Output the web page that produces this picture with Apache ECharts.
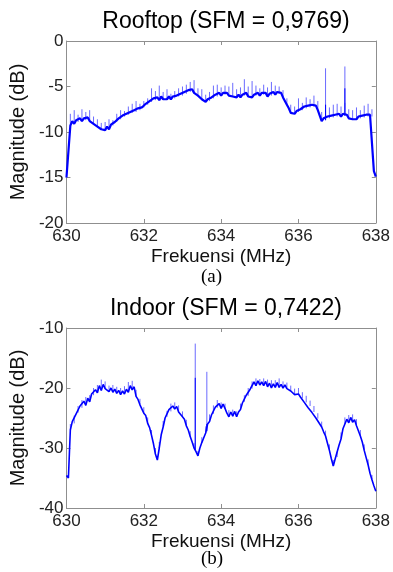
<!DOCTYPE html>
<html>
<head>
<meta charset="utf-8">
<script src="https://cdn.jsdelivr.net/npm/echarts@6/dist/echarts.min.js"></script>
<style>
  html, body { margin: 0; padding: 0; background: #fff; }
  #chart { width: 393px; height: 572px; }
</style>
</head>
<body>
<div id="chart"></div>
<script>
// spectrum readings, one value every 0.05 MHz from 630 to 638
const magRooftop = [
  -15.0, -15.1, -9.3, -8.8, -9.1, -8.7, -8.9, -8.5, -8.8, -8.5, -8.7, -8.4, -8.8, -8.6, -9.1, -8.9, -9.4, -9.2, -9.7, -9.5,
  -9.8, -9.4, -9.7, -9.2, -9.3, -8.9, -8.9, -8.5, -8.6, -8.2, -8.3, -8.0, -8.1, -7.8, -7.9, -7.6, -7.8, -7.4, -7.6, -7.3,
  -7.3, -6.9, -7.0, -6.6, -6.7, -6.3, -6.5, -6.2, -6.5, -6.1, -6.4, -6.2, -6.4, -6.1, -6.4, -6.1, -6.3, -6.0, -6.1, -5.8,
  -6.0, -5.6, -5.8, -5.4, -5.6, -5.3, -5.7, -5.6, -6.0, -6.0, -6.4, -6.4, -6.7, -6.4, -6.6, -6.2, -6.3, -5.9, -6.1, -5.7,
  -6.0, -5.7, -5.9, -5.7, -6.0, -5.8, -6.1, -5.9, -6.2, -5.9, -6.2, -5.9, -6.0, -5.7, -6.1, -5.9, -6.2, -5.9, -6.0, -5.7,
  -6.0, -5.7, -5.9, -5.7, -6.1, -5.8, -6.0, -5.6, -5.9, -5.6, -5.8, -5.7, -6.2, -6.4, -7.0, -7.4, -7.9, -7.7, -8.0, -7.7,
  -7.8, -7.5, -7.6, -7.2, -7.4, -7.1, -7.3, -7.0, -7.2, -7.1, -7.6, -8.2, -8.8, -8.5, -8.7, -8.3, -8.5, -8.2, -8.4, -8.1,
  -8.3, -8.0, -8.3, -8.0, -8.2, -8.1, -8.5, -8.3, -8.6, -8.4, -8.6, -8.3, -8.5, -8.2, -8.4, -8.1, -8.3, -8.1, -8.3, -14.3,
  -14.9
];
// light noise peaks above the band, one every 0.1 MHz
const peakRooftop = [
  -15.0, -8.0, -7.6, -8.1, -7.5, -7.8, -7.6, -8.3, -8.6, -9.0,
  -8.9, -8.6, -8.7, -8.0, -7.6, -7.7, -7.2, -6.9, -6.6, -6.9,
  -6.6, -6.3, -5.2, -5.5, -4.9, -5.6, -5.3, -5.8, -5.5, -5.2,
  -5.0, -4.8, -4.5, -4.3, -5.2, -5.3, -5.9, -5.6, -4.9, -4.8,
  -5.1, -4.9, -5.0, -4.6, -5.3, -5.1, -4.2, -5.0, -4.4, -4.9,
  -5.2, -4.8, -5.1, -4.5, -4.9, -5.0, -5.4, -6.3, -7.0, -7.2,
  -6.3, -6.8, -6.2, -6.4, -6.0, -6.6, -7.8, -7.0, -7.3, -7.0,
  -6.9, -7.2, -6.8, -7.5, -7.6, -7.3, -7.6, -7.1, -6.9, -7.5,
  -14.9
];
const magIndoor = [
  -34.6, -35.0, -27.0, -25.6, -25.9, -24.3, -24.1, -23.0, -23.3, -22.2, -22.9, -21.7, -22.3, -21.0, -21.2, -20.3, -20.8, -19.6, -20.4, -19.4,
  -20.1, -19.8, -20.6, -20.0, -20.7, -20.2, -20.9, -20.4, -21.1, -20.5, -21.0, -20.2, -20.7, -19.6, -20.3, -19.8, -21.4, -21.9, -22.8, -23.1,
  -24.2, -24.6, -25.9, -26.6, -27.9, -29.3, -31.0, -32.0, -30.0, -27.8, -26.5, -25.0, -24.8, -23.6, -23.9, -23.0, -23.5, -23.1, -24.0, -23.9,
  -24.8, -25.2, -26.3, -27.0, -28.1, -29.0, -30.0, -30.6, -31.3, -30.0, -29.1, -28.3, -27.5, -26.0, -25.6, -24.5, -24.3, -23.2, -23.3, -22.6,
  -23.4, -22.7, -23.4, -24.2, -24.8, -24.0, -24.7, -23.9, -24.8, -24.0, -23.6, -22.5, -22.3, -21.2, -21.3, -20.2, -20.1, -19.0, -19.6, -18.8,
  -19.5, -19.0, -19.6, -18.9, -19.8, -19.2, -20.0, -19.3, -19.9, -19.1, -19.9, -19.4, -20.0, -19.5, -20.1, -19.8, -20.5, -20.4, -21.1, -21.0,
  -21.0, -21.5, -21.7, -22.4, -22.4, -23.3, -23.0, -24.1, -24.0, -25.0, -25.1, -26.0, -26.5, -27.3, -28.0, -29.2, -30.4, -31.8, -33.0, -31.8,
  -31.5, -29.5, -28.5, -26.8, -26.0, -25.2, -25.8, -24.9, -25.7, -25.3, -26.3, -26.5, -28.0, -29.0, -30.4, -31.6, -32.8, -34.2, -35.3, -36.3,
  -37.2
];
const peakIndoor = [
  -34.6, -26.0, -24.6, -23.0, -22.0, -21.5, -21.2, -20.0, -19.5, -18.6,
  -18.9, -19.6, -19.5, -19.8, -20.0, -19.7, -19.0, -18.8, -20.3, -21.8,
  -23.2, -24.9, -27.0, -30.0, -29.0, -25.5, -23.8, -22.6, -22.4, -22.9,
  -23.9, -25.3, -27.2, -29.2, -30.5, -28.2, -26.4, -24.4, -22.9, -22.0,
  -22.4, -22.6, -23.7, -23.6, -23.9, -22.6, -21.2, -20.0, -18.9, -18.4,
  -18.5, -18.4, -18.6, -18.7, -18.7, -18.4, -18.9, -19.1, -19.6, -20.1,
  -20.0, -20.7, -21.3, -22.1, -23.0, -24.2, -25.6, -27.1, -29.4, -32.0,
  -30.6, -27.4, -24.9, -24.5, -24.4, -25.2, -27.0, -29.4, -31.9, -34.5,
  -37.2
];
const freqStart = 630;
const freqStep = 0.05;
const peakStep = 0.1;

// narrow carrier spikes
const spikeFreqRooftop = [636.70, 637.20];
const spikeBaseRooftop = [-8.7, -8.2];
const spikeMidRooftop = [-7.0, -5.2];
const spikeTopRooftop = [-3.0, -2.8];
const spikeFreqIndoor = [633.33, 633.63];
const spikeBaseIndoor = [-30.3, -27.2];
const spikeMidIndoor = [-18.3, -26.0];
const spikeTopIndoor = [-12.6, -17.3];

const toPairs = (mags) => mags.map((v, i) => [+(freqStart + i * freqStep).toFixed(2), v]);
const spikePairs = (f, lo, hi) => {
  const out = [];
  f.forEach((x, i) => { out.push([x, lo[i]], [x, hi[i]], '-'); });
  return out;
};
const peakPairs = (mags, peaks) => {
  const f = peaks.map((_, i) => +(freqStart + i * peakStep).toFixed(2));
  const lo = peaks.map((_, i) => mags[i * 2]);
  return spikePairs(f, lo, peaks);
};

const chart = echarts.init(document.getElementById('chart'));
const font = 'Liberation Sans, Arial, sans-serif';
const frame = '#8f8f8f';

const xAx = (grid, main) => ({
  gridIndex: grid,
  type: 'value',
  min: 630,
  max: 638,
  interval: 2,
  position: main ? 'bottom' : 'top',
  name: main ? 'Frekuensi (MHz)' : '',
  nameLocation: 'middle',
  nameGap: 24,
  nameTextStyle: { fontFamily: font, fontSize: 19, color: '#111' },
  axisLine: { show: true, onZero: false, lineStyle: { color: frame, width: 1 } },
  axisTick: { show: true, inside: true, length: 4, lineStyle: { color: frame } },
  axisLabel: { show: main, margin: 5, fontFamily: font, fontSize: 17, color: '#222' },
  splitLine: { show: false }
});
const yAx = (grid, main, min, max, step) => ({
  gridIndex: grid,
  type: 'value',
  min,
  max,
  interval: step,
  position: main ? 'left' : 'right',
  name: main ? 'Magnitude (dB)' : '',
  nameLocation: 'middle',
  nameGap: 31,
  nameTextStyle: { fontFamily: font, fontSize: 20, color: '#111' },
  axisLine: { show: true, onZero: false, lineStyle: { color: frame, width: 1 } },
  axisTick: { show: true, inside: true, length: 4, lineStyle: { color: frame } },
  axisLabel: { show: main, margin: 3, fontFamily: font, fontSize: 17, color: '#222' },
  splitLine: { show: false }
});

const lineSeries = (xi, yi, data, color, width) => ({
  type: 'line',
  xAxisIndex: xi,
  yAxisIndex: yi,
  data,
  showSymbol: false,
  symbol: 'none',
  sampling: null,
  connectNulls: false,
  lineStyle: { color, width },
  silent: true
});

chart.setOption({
  animation: false,
  backgroundColor: '#fff',
  title: [
    { text: 'Rooftop (SFM = 0,9769)', left: 221, top: 5, textAlign: 'center',
      textStyle: { fontFamily: font, fontSize: 23, fontWeight: 'normal', color: '#000' } },
    { text: 'Indoor (SFM = 0,7422)', left: 221, top: 292, textAlign: 'center',
      textStyle: { fontFamily: font, fontSize: 23, fontWeight: 'normal', color: '#000' } }
  ],
  grid: [
    { left: 66, top: 41, width: 312, height: 182 },
    { left: 66, top: 328, width: 312, height: 180 }
  ],
  xAxis: [xAx(0, true), xAx(0, false), xAx(1, true), xAx(1, false)],
  yAxis: [yAx(0, true, -20, 0, 5), yAx(0, false, -20, 0, 5), yAx(1, true, -40, -10, 10), yAx(1, false, -40, -10, 10)],
  series: [
    lineSeries(0, 0, peakPairs(magRooftop, peakRooftop), '#6a6aff', 1),
    lineSeries(0, 0, spikePairs(spikeFreqRooftop, spikeBaseRooftop, spikeTopRooftop), '#6a6aff', 1),
    lineSeries(0, 0, spikePairs(spikeFreqRooftop, spikeBaseRooftop, spikeMidRooftop), '#0000ff', 1),
    lineSeries(0, 0, toPairs(magRooftop), '#0000ff', 2.2),
    lineSeries(2, 2, peakPairs(magIndoor, peakIndoor), '#6a6aff', 1),
    lineSeries(2, 2, spikePairs(spikeFreqIndoor, spikeBaseIndoor, spikeTopIndoor), '#6a6aff', 1),
    lineSeries(2, 2, spikePairs(spikeFreqIndoor, spikeBaseIndoor, spikeMidIndoor), '#0000ff', 1),
    lineSeries(2, 2, toPairs(magIndoor), '#0000ff', 1.6)
  ],
  graphic: [
    { type: 'text', left: 201, top: 268, style: { text: '(a)', font: '19px "Liberation Serif", "Times New Roman", serif', fill: '#000' } },
    { type: 'text', left: 201, top: 550, style: { text: '(b)', font: '19px "Liberation Serif", "Times New Roman", serif', fill: '#000' } }
  ]
});
</script>
</body>
</html>
